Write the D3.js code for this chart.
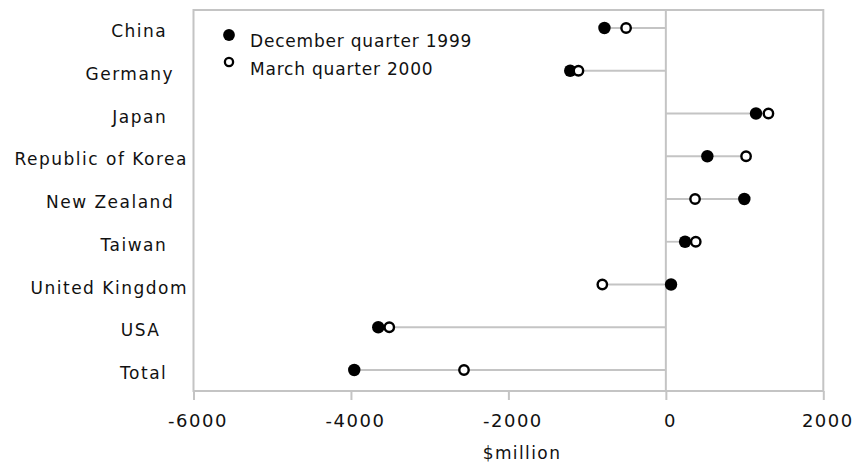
<!DOCTYPE html>
<html>
<head>
<meta charset="utf-8">
<script src="https://cdn.jsdelivr.net/npm/d3@7"></script>
<style>
  html, body { margin: 0; padding: 0; background: #fff; }
  svg text { font-family: "DejaVu Sans", sans-serif; fill: #111; white-space: pre; }
</style>
</head>
<body>
<svg id="chart" width="866" height="463"></svg>
<script>
// ---- data ----
const categories = ["China   ", "Germany  ", "Japan   ", "Republic of Korea", "New Zealand  ", "Taiwan   ", "United Kingdom", "USA    ", "Total   "];
const dec1999 = [-780, -1215, 1145, 527, 997, 244, 66, -3653, -3958];
const mar2000 = [-505, -1110, 1303, 1019, 371, 380, -807, -3513, -2564];
const seriesNames = ["December quarter 1999", "March quarter 2000"];
const xTicks = [-6000, -4000, -2000, 0, 2000];
const xTitle = "$million";

// ---- layout ----
const plot = { left: 193.5, right: 823.3, top: 10, bottom: 391 };
const grey = "#c4c4c4";

const svg = d3.select("#chart");

const x = d3.scaleLinear().domain([-6000, 2000]).range([plot.left, plot.right]);
const y = d3.scalePoint().domain(categories).range([28, 370]);

// plot frame
svg.append("rect")
  .attr("x", plot.left).attr("y", plot.top)
  .attr("width", plot.right - plot.left).attr("height", plot.bottom - plot.top)
  .attr("fill", "none").attr("stroke", grey).attr("stroke-width", 2);

// x axis using d3 axis
const xAxis = d3.axisBottom(x).tickValues(xTicks).tickSize(9).tickPadding(14).tickFormat(d => String(d));
const gx = svg.append("g").attr("transform", `translate(0,${plot.bottom})`).call(xAxis);
gx.select(".domain").remove();
gx.selectAll(".tick line").attr("stroke", grey).attr("stroke-width", 2);
gx.selectAll(".tick text")
  .attr("font-size", 18).attr("letter-spacing", 1.5)
  .attr("fill", "#111").attr("dx", 4)
  .style("font-family", "DejaVu Sans, sans-serif");

// zero line
svg.append("line")
  .attr("x1", x(0)).attr("x2", x(0))
  .attr("y1", plot.top).attr("y2", plot.bottom)
  .attr("stroke", grey).attr("stroke-width", 2);

// y category labels
svg.append("g").selectAll("text").data(categories).join("text")
  .attr("x", 188).attr("y", d => y(d) + 9)
  .attr("text-anchor", "end")
  .attr("font-size", 17).attr("letter-spacing", 1.5)
  .text(d => d);

// dumbbell lines
const rows = categories.map((c, i) => ({ c, a: dec1999[i], b: mar2000[i] }));
svg.append("g").selectAll("line").data(rows).join("line")
  .attr("x1", d => x(Math.min(0, d.a, d.b)))
  .attr("x2", d => x(Math.max(0, d.a, d.b)))
  .attr("y1", d => y(d.c)).attr("y2", d => y(d.c))
  .attr("stroke", grey).attr("stroke-width", 1.8);

// filled markers (December quarter 1999)
svg.append("g").selectAll("circle").data(rows).join("circle")
  .attr("cx", d => x(d.a)).attr("cy", d => y(d.c))
  .attr("r", 6.2).attr("fill", "#000");

// open markers (March quarter 2000)
svg.append("g").selectAll("circle").data(rows).join("circle")
  .attr("cx", d => x(d.b)).attr("cy", d => y(d.c))
  .attr("r", 4.7).attr("fill", "#fff").attr("stroke", "#000").attr("stroke-width", 2.4);

// legend
const lg = svg.append("g");
lg.append("circle").attr("cx", 229).attr("cy", 35).attr("r", 5.9).attr("fill", "#000");
lg.append("circle").attr("cx", 229).attr("cy", 62).attr("r", 4.1).attr("fill", "#fff")
  .attr("stroke", "#000").attr("stroke-width", 2.3);
lg.append("text").attr("x", 250).attr("y", 47).attr("font-size", 17).attr("letter-spacing", 0.8).text(seriesNames[0]);
lg.append("text").attr("x", 250).attr("y", 75).attr("font-size", 17).attr("letter-spacing", 0.8).text(seriesNames[1]);

// x title
svg.append("text")
  .attr("x", 522).attr("y", 459)
  .attr("text-anchor", "middle")
  .attr("font-size", 17).attr("letter-spacing", 1.4)
  .text(xTitle);
</script>
</body>
</html>
